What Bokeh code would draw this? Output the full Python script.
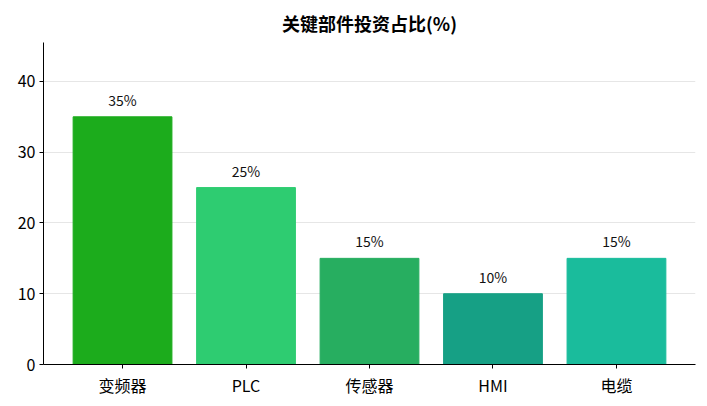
from bokeh.plotting import figure
from bokeh.models import ColumnDataSource, Range1d, FixedTicker
from bokeh.embed import file_html
from bokeh.resources import INLINE
from bokeh.core.properties import value

categories = ["变频器", "PLC", "传感器", "HMI", "电缆"]
shares = [35, 25, 15, 10, 15]
colors = ["#1cac1c", "#2ecc71", "#27ae60", "#16a085", "#1abc9c"]
y_ticks = [0, 10, 20, 30, 40]

FONT = "Noto Sans CJK SC"
xs = list(range(len(categories)))
src = ColumnDataSource(dict(x=xs, top=shares, color=colors,
                            label=[f"{v}%" for v in shares]))

p = figure(width=707, height=406, output_backend="svg", toolbar_location=None,
           x_range=Range1d(-0.64, 4.64), y_range=Range1d(0, max(shares) * 1.3),
           min_border_left=43, min_border_right=12, min_border_top=42, min_border_bottom=42)
p.title.text = "关键部件投资占比(%)"
p.title.align = "center"
p.title.text_font = FONT
p.title.text_font_size = "18px"
p.title.text_font_style = "bold"
p.title.text_color = "black"
p.title.offset = 0
p.title.standoff = 14

p.vbar(x="x", top="top", width=0.8, color="color", source=src)
p.text(x="x", y="top", text="label", source=src, text_align="center",
       text_baseline="bottom", y_offset=-7, text_font=value(FONT),
       text_font_size="14px", text_color="#111111")

p.outline_line_color = None
p.xgrid.grid_line_color = None
p.ygrid.grid_line_color = "#e6e6e6"
p.ygrid.grid_line_width = 1
p.yaxis.ticker = FixedTicker(ticks=y_ticks)
p.xaxis.ticker = FixedTicker(ticks=xs)
p.xaxis.major_label_overrides = {i: c for i, c in enumerate(categories)}
for ax in (p.xaxis, p.yaxis):
    ax.axis_line_color = "black"
    ax.axis_line_width = 1
    ax.major_tick_line_color = "black"
    ax.major_tick_out = 4
    ax.major_tick_in = 0
    ax.minor_tick_line_color = None
    ax.major_label_text_font = FONT
    ax.major_label_text_font_size = "16px"
    ax.major_label_text_color = "black"
    ax.major_label_standoff = 4

open("out.html", "w").write(file_html(p, INLINE))
